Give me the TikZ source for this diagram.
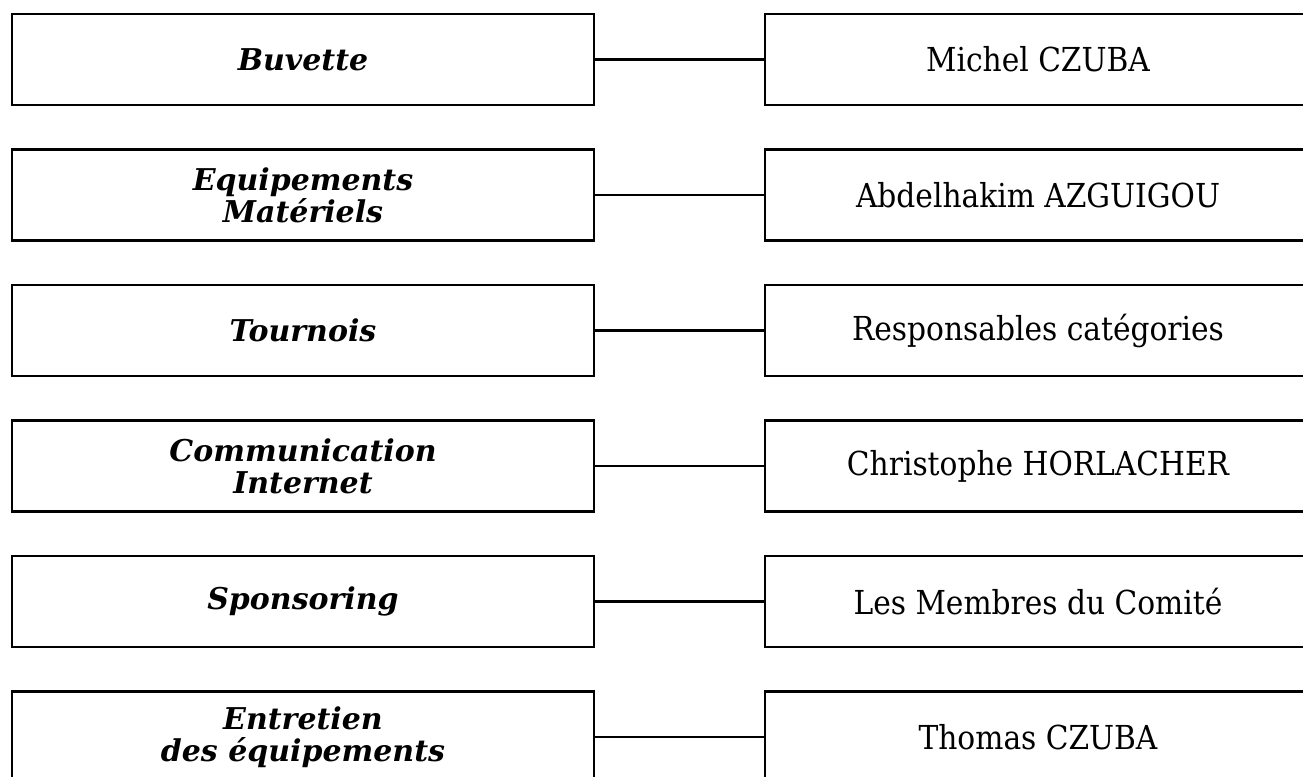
\documentclass[tikz,border=0pt]{standalone}
\usepackage{fontspec}
\setmainfont{DejaVu Serif}
\newfontfamily\condfont{DejaVu Serif Condensed}
\usetikzlibrary{positioning}

\begin{document}
\begin{tikzpicture}[
    x = 1pt, y = -1pt,
    role/.style = {draw, line width = 2.4pt, minimum width = 582pt, minimum height = 91pt, inner sep = 0pt, align = center, font = \fontsize{30}{32}\selectfont\bfseries\itshape},
    person/.style = {draw, line width = 2.4pt, minimum width = 546pt, minimum height = 91pt, inner sep = 0pt, font = \condfont\fontsize{33}{38}\selectfont},
    link/.style = {line width = 2.2pt}
]
\useasboundingbox (0,0) rectangle (1303,776);

\node[role] (buvette) at (303, 59.5) {Buvette};
\node[role] (materiel) at (303, 195) {Equipements\\Matériels};
\node[role] (tournois) at (303, 330.5) {Tournois};
\node[role] (comm) at (303, 466) {Communication\\Internet};
\node[role] (sponsor) at (303, 601.5) {Sponsoring};
\node[role] (entretien) at (303, 737) {Entretien\\des équipements};

\node[person] (michel) at (1038, 59.5) {Michel CZUBA};
\node[person] (abdel) at (1038, 195) {Abdelhakim AZGUIGOU};
\node[person] (resp) at (1038, 330.5) {Responsables catégories};
\node[person] (christophe) at (1038, 466) {Christophe HORLACHER};
\node[person] (membres) at (1038, 601.5) {Les Membres du Comité};
\node[person] (thomas) at (1038, 737) {Thomas CZUBA};

\draw[link] (buvette.east) -- (michel.west);
\draw[link] (materiel.east) -- (abdel.west);
\draw[link] (tournois.east) -- (resp.west);
\draw[link] (comm.east) -- (christophe.west);
\draw[link] (sponsor.east) -- (membres.west);
\draw[link] (entretien.east) -- (thomas.west);
\end{tikzpicture}
\end{document}
